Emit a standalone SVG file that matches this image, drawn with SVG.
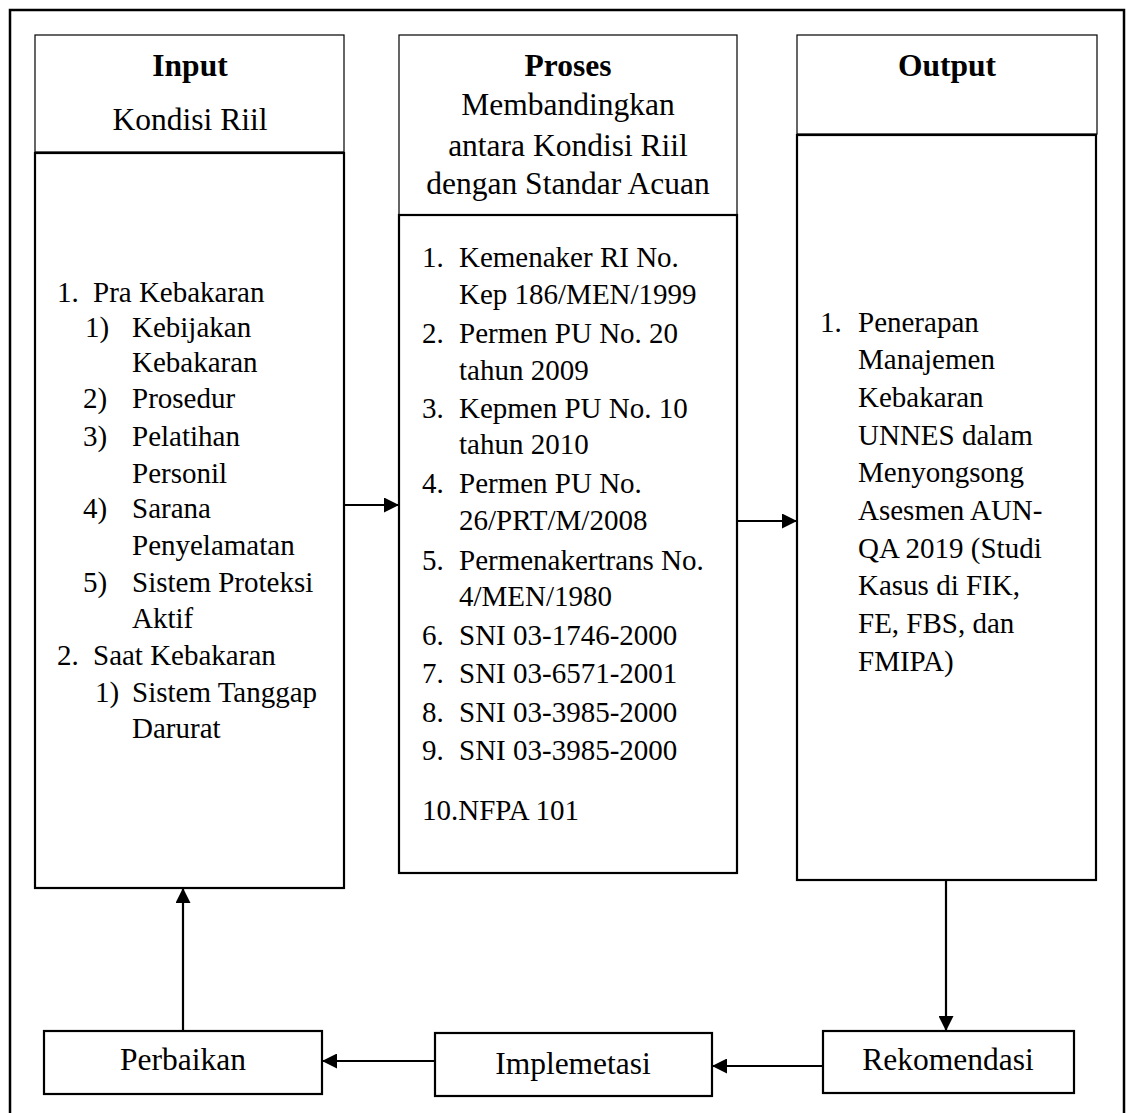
<svg xmlns="http://www.w3.org/2000/svg" width="1127" height="1113" viewBox="0 0 1127 1113">
<style>
text{font-family:"Liberation Serif","Times New Roman",serif;fill:#000}
.h{font-size:31.5px;font-weight:bold;text-anchor:middle}
.s{font-size:31.5px;text-anchor:middle}
.b{font-size:29px}
.hdr{fill:#fff;stroke:#000;stroke-width:1.2}
.box{fill:#fff;stroke:#000;stroke-width:2.2}
.con{stroke:#000;stroke-width:2.2;fill:none}
</style>
<defs>
<marker id="ah" markerUnits="userSpaceOnUse" markerWidth="15" markerHeight="15" refX="15" refY="7.5" orient="auto">
<path d="M0,0 L15,7.5 L0,15 z" fill="#000"/>
</marker>
</defs>
<rect x="10" y="10" width="1114" height="1120" fill="none" stroke="#000" stroke-width="2.5"/>
<g id="input">
<rect class="hdr" x="35" y="35" width="309" height="117"/>
<text class="h" x="190" y="76">Input</text>
<text class="s" x="190" y="130">Kondisi Riil</text>
<rect class="box" x="35" y="153" width="309" height="735"/>
<g class="b">
<text x="57" y="302">1.</text><text x="93" y="302">Pra Kebakaran</text>
<text x="85" y="337">1)</text><text x="132" y="337">Kebijakan</text>
<text x="132" y="372">Kebakaran</text>
<text x="83" y="408">2)</text><text x="132" y="408">Prosedur</text>
<text x="83" y="446">3)</text><text x="132" y="446">Pelatihan</text>
<text x="132" y="483">Personil</text>
<text x="83" y="518">4)</text><text x="132" y="518">Sarana</text>
<text x="132" y="555">Penyelamatan</text>
<text x="83" y="592">5)</text><text x="132" y="592">Sistem Proteksi</text>
<text x="132" y="628">Aktif</text>
<text x="57" y="665">2.</text><text x="93" y="665">Saat Kebakaran</text>
<text x="95" y="702">1)</text><text x="132" y="702">Sistem Tanggap</text>
<text x="132" y="738">Darurat</text>
</g>
</g>
<g id="proses">
<rect class="hdr" x="399" y="35" width="338" height="180"/>
<text class="h" x="568" y="76">Proses</text>
<text class="s" x="568" y="115">Membandingkan</text>
<text class="s" x="568" y="156">antara Kondisi Riil</text>
<text class="s" x="568" y="194">dengan Standar Acuan</text>
<rect class="box" x="399" y="215" width="338" height="658"/>
<g class="b">
<text x="422" y="267">1.</text><text x="459" y="267">Kemenaker RI No.</text>
<text x="459" y="304">Kep 186/MEN/1999</text>
<text x="422" y="343">2.</text><text x="459" y="343">Permen PU No. 20</text>
<text x="459" y="380">tahun 2009</text>
<text x="422" y="418">3.</text><text x="459" y="418">Kepmen PU No. 10</text>
<text x="459" y="454">tahun 2010</text>
<text x="422" y="493">4.</text><text x="459" y="493">Permen PU No.</text>
<text x="459" y="530">26/PRT/M/2008</text>
<text x="422" y="570">5.</text><text x="459" y="570">Permenakertrans No.</text>
<text x="459" y="606">4/MEN/1980</text>
<text x="422" y="645">6.</text><text x="459" y="645">SNI 03-1746-2000</text>
<text x="422" y="683">7.</text><text x="459" y="683">SNI 03-6571-2001</text>
<text x="422" y="722">8.</text><text x="459" y="722">SNI 03-3985-2000</text>
<text x="422" y="760">9.</text><text x="459" y="760">SNI 03-3985-2000</text>
<text x="422" y="820">10.NFPA 101</text>
</g>
</g>
<g id="output">
<rect class="hdr" x="797" y="35" width="300" height="99"/>
<text class="h" x="947" y="76">Output</text>
<rect class="box" x="797" y="135" width="299" height="745"/>
<g class="b">
<text x="820" y="332">1.</text><text x="858" y="332">Penerapan</text>
<text x="858" y="369">Manajemen</text>
<text x="858" y="407">Kebakaran</text>
<text x="858" y="445">UNNES dalam</text>
<text x="858" y="482">Menyongsong</text>
<text x="858" y="520">Asesmen AUN-</text>
<text x="858" y="558">QA 2019 (Studi</text>
<text x="858" y="595">Kasus di FIK,</text>
<text x="858" y="633">FE, FBS, dan</text>
<text x="858" y="671">FMIPA)</text>
</g>
</g>
<g id="perbaikan">
<rect class="box" x="44" y="1031" width="278" height="63"/>
<text class="s" x="183" y="1070">Perbaikan</text>
</g>
<g id="implemetasi">
<rect class="box" x="435" y="1033" width="277" height="63"/>
<text class="s" x="573" y="1074">Implemetasi</text>
</g>
<g id="rekomendasi">
<rect class="box" x="823" y="1031" width="251" height="62"/>
<text class="s" x="948" y="1070">Rekomendasi</text>
</g>
<g id="connectors">
<line class="con" x1="344" y1="505" x2="399" y2="505" marker-end="url(#ah)"/>
<line class="con" x1="737" y1="521" x2="797" y2="521" marker-end="url(#ah)"/>
<line class="con" x1="946" y1="880" x2="946" y2="1031" marker-end="url(#ah)"/>
<line class="con" x1="823" y1="1066" x2="712" y2="1066" marker-end="url(#ah)"/>
<line class="con" x1="435" y1="1061" x2="322" y2="1061" marker-end="url(#ah)"/>
<line class="con" x1="183" y1="1031" x2="183" y2="888" marker-end="url(#ah)"/>
</g>
</svg>
